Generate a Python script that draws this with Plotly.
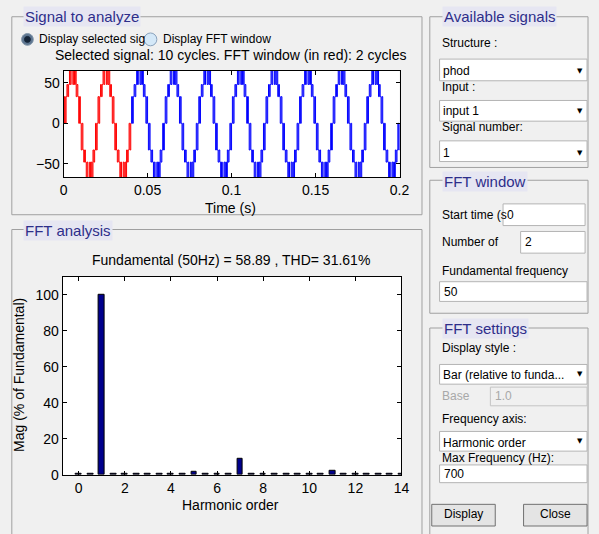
import numpy as np
import plotly.graph_objects as go

# ---------------- data ----------------
# one fundamental cycle (20 ms) of the multilevel signal, sampled every 0.5 ms
cycle_levels = [0, 33, 0, 33, 48, 33, 48, 72, 48, 72,
                72, 48, 72, 48, 72, 33, 48, 33, 0, 33,
                0, -33, 0, -33, -48, -33, -48, -72, -48, -72,
                -72, -48, -72, -48, -72, -33, -48, -33, 0, -33]
sample_step = 0.0005          # s
n_cycles = 10                 # selected signal: 10 cycles
fft_cycles = 2                # FFT window (in red): 2 cycles

harmonic_order = [0, 0.5, 1, 1.5, 2, 2.5, 3, 3.5, 4, 4.5, 5, 5.5, 6, 6.5, 7,
                  7.5, 8, 8.5, 9, 9.5, 10, 10.5, 11, 11.5, 12, 12.5, 13, 13.5, 14]
mag_pct = [0.4, 0.4, 100, 0.4, 0.4, 0.3, 0.4, 0.3, 0.4, 0.3, 1.8, 0.3, 0.4, 0.3, 9.1,
           0.3, 0.4, 0.3, 0.4, 0.3, 0.4, 0.3, 2.3, 0.3, 0.4, 0.3, 0.5, 0.3, 0.3]

sig_xticks = [0, 0.05, 0.1, 0.15, 0.2]
sig_yticks = [-50, 0, 50]
fft_xticks = [0, 2, 4, 6, 8, 10, 12, 14]
fft_yticks = [0, 20, 40, 60, 80, 100]

# ---------------- build signal ----------------
sig = list(np.tile(cycle_levels, n_cycles)) + [cycle_levels[0]]
t = [i * sample_step for i in range(len(sig))]
n_red = fft_cycles * len(cycle_levels)

W, H = 599, 534
BG = '#f0f0f0'
AX_FONT = dict(family='Liberation Sans, Arial', size=14, color='black')
UI_FONT = dict(family='Liberation Sans, Arial', size=12, color='black')


def px(x):
    return x / W


def py(y):
    return 1 - y / H


fig = go.Figure()
fig.add_trace(go.Scatter(x=t[n_red:], y=sig[n_red:], mode='lines', line_shape='hv',
                         line=dict(color='#0000ff', width=1), xaxis='x', yaxis='y',
                         showlegend=False, hoverinfo='skip'))
fig.add_trace(go.Scatter(x=t[:n_red + 1], y=sig[:n_red + 1], mode='lines', line_shape='hv',
                         line=dict(color='#ff0000', width=1), xaxis='x', yaxis='y',
                         showlegend=False, hoverinfo='skip'))
fig.add_trace(go.Bar(x=harmonic_order, y=mag_pct, width=0.25,
                     marker=dict(color='#00008c', line=dict(color='black', width=1)),
                     xaxis='x2', yaxis='y2', showlegend=False, hoverinfo='skip'))

axis_common = dict(showline=True, linecolor='black', linewidth=1, mirror='ticks',
                   ticks='inside', ticklen=4, tickcolor='black', showgrid=False,
                   zeroline=False, tickfont=AX_FONT)

shapes = []
annotations = []


def rect(x0, y0, x1, y1, line='#a0a0a0', fill=None, width=1):
    shapes.append(dict(type='rect', xref='paper', yref='paper',
                       x0=px(x0), x1=px(x1), y0=py(y1), y1=py(y0),
                       line=dict(color=line, width=width),
                       fillcolor=fill if fill else 'rgba(0,0,0,0)', layer='below'))


def circle(cx, cy, r, fill, line):
    shapes.append(dict(type='circle', xref='paper', yref='paper',
                       x0=px(cx - r), x1=px(cx + r), y0=py(cy + r), y1=py(cy - r),
                       line=dict(color=line, width=1), fillcolor=fill, layer='above'))


def text(x, y, s, font=None, xanchor='left', bg=None, width=None, align='left',
         textangle=0, pad=0):
    d = dict(x=px(x), y=py(y), xref='paper', yref='paper', text=s, showarrow=False,
             xanchor=xanchor, yanchor='middle', font=font or UI_FONT,
             borderpad=pad, align=align, textangle=textangle)
    if bg:
        d['bgcolor'] = bg
    if width:
        d['width'] = width
    annotations.append(d)


TITLE_FONT = dict(family='Liberation Sans, Arial', size=15, color='#2e2e8a')
TITLE_BG = '#e6e6f2'
ARROW_FONT = dict(family='DejaVu Sans', size=7, color='black')

# ---- panels ----
rect(8, 17, 428, 218)
rect(8, 233, 428, 560)
rect(436, 17, 598, 170)
rect(436, 183, 598, 318)
rect(436, 333, 598, 560)
text(19, 17, 'Signal to analyze', TITLE_FONT, bg=TITLE_BG, pad=1)
text(19, 234, 'FFT analysis', TITLE_FONT, bg=TITLE_BG, pad=1)
text(448, 17, 'Available signals', TITLE_FONT, bg=TITLE_BG, pad=1)
text(448, 184, 'FFT window', TITLE_FONT, bg=TITLE_BG, pad=1)
text(448, 333, 'FFT settings', TITLE_FONT, bg=TITLE_BG, pad=1)

# ---- radio buttons ----
text(35, 40, 'Display selected sig')
circle(24, 40, 6, '#5d7590', '#8094a8')
circle(24, 40, 3, '#142438', '#142438')
circle(150, 40, 6.5, '#d4e8f8', '#8aa2bc')
text(162, 40, 'Display FFT window')

# ---- plot texts ----
text(232, 56, 'Selected signal: 10 cycles. FFT window (in red): 2 cycles', AX_FONT, xanchor='center')
text(232, 211, 'Time (s)', AX_FONT, xanchor='center')
text(232, 264, 'Fundamental (50Hz) = 58.89 , THD= 31.61%', AX_FONT, xanchor='center')
text(232, 513, 'Harmonic order', AX_FONT, xanchor='center')
text(16, 381, 'Mag (% of Fundamental)', AX_FONT, xanchor='center', textangle=-90)

# ---- Available signals widgets ----
WHITE = 'white'
BOX = '#b4b4b4'
text(447, 44, 'Structure :')
rect(446, 60, 597, 82, BOX, WHITE)
text(448, 72, 'phod')
text(590, 72, '▼', ARROW_FONT, xanchor='center')
text(447, 88, 'Input :')
rect(446, 102, 597, 123, BOX, WHITE)
text(448, 113, 'input 1')
text(590, 113, '▼', ARROW_FONT, xanchor='center')
text(447, 129, 'Signal number:')
rect(446, 143, 597, 164, BOX, WHITE)
text(448, 155, '1')
text(590, 155, '▼', ARROW_FONT, xanchor='center')

# ---- FFT window widgets ----
text(447, 218, 'Start time (s')
rect(511, 207, 595, 229, BOX, WHITE)
text(514, 218, '0')
text(447, 246, 'Number of')
rect(529, 235, 595, 257, BOX, WHITE)
text(532, 246, '2')
text(447, 275, 'Fundamental frequency')
rect(446, 286, 597, 306, BOX, WHITE)
text(449, 296, '50')

# ---- FFT settings widgets ----
text(447, 353, 'Display style :')
rect(446, 370, 597, 390, BOX, WHITE)
text(448, 381, 'Bar (relative to funda...')
text(590, 380, '▼', ARROW_FONT, xanchor='center')
GRAY_FONT = dict(family='Liberation Sans, Arial', size=12, color='#a8a8a8')
text(447, 402, 'Base', GRAY_FONT)
rect(498, 393, 597, 412, '#c4c4c4', '#f0f0f0')
text(502, 402, '1.0', GRAY_FONT)
text(447, 425, 'Frequency axis:')
rect(446, 438, 597, 458, BOX, WHITE)
text(448, 450, 'Harmonic order')
text(590, 448, '▼', ARROW_FONT, xanchor='center')
text(447, 465, 'Max Frequency (Hz):')
rect(446, 472, 597, 490, BOX, WHITE)
text(449, 481, '700')

# ---- buttons ----
rect(438, 512, 503, 534, '#707070', '#e4e4e4')
text(470.5, 522, 'Display', xanchor='center')
rect(532, 512, 597, 534, '#707070', '#e4e4e4')
text(564.5, 522, 'Close', xanchor='center')

fig.update_layout(
    width=W, height=H,
    margin=dict(l=0, r=0, t=0, b=0),
    paper_bgcolor=BG, plot_bgcolor='white',
    xaxis=dict(domain=[px(61), px(405)], range=[0, 0.2], tickvals=sig_xticks,
               ticktext=['0', '0.05', '0.1', '0.15', '0.2'], anchor='y', **axis_common),
    yaxis=dict(domain=[py(180), py(72)], range=[-66.8, 64.8], tickvals=sig_yticks,
               anchor='x', **axis_common),
    xaxis2=dict(domain=[px(60), px(407)], range=[-0.7, 14], tickvals=fft_xticks,
                anchor='y2', **axis_common),
    yaxis2=dict(domain=[py(482), py(281)], range=[0, 110], tickvals=fft_yticks,
                anchor='x2', **axis_common),
    shapes=shapes,
    annotations=annotations,
    bargap=0,
)

fig.write_html('out.html', config={'displayModeBar': False},
               post_script="document.body.style.margin='0';document.body.style.overflow='hidden';")
